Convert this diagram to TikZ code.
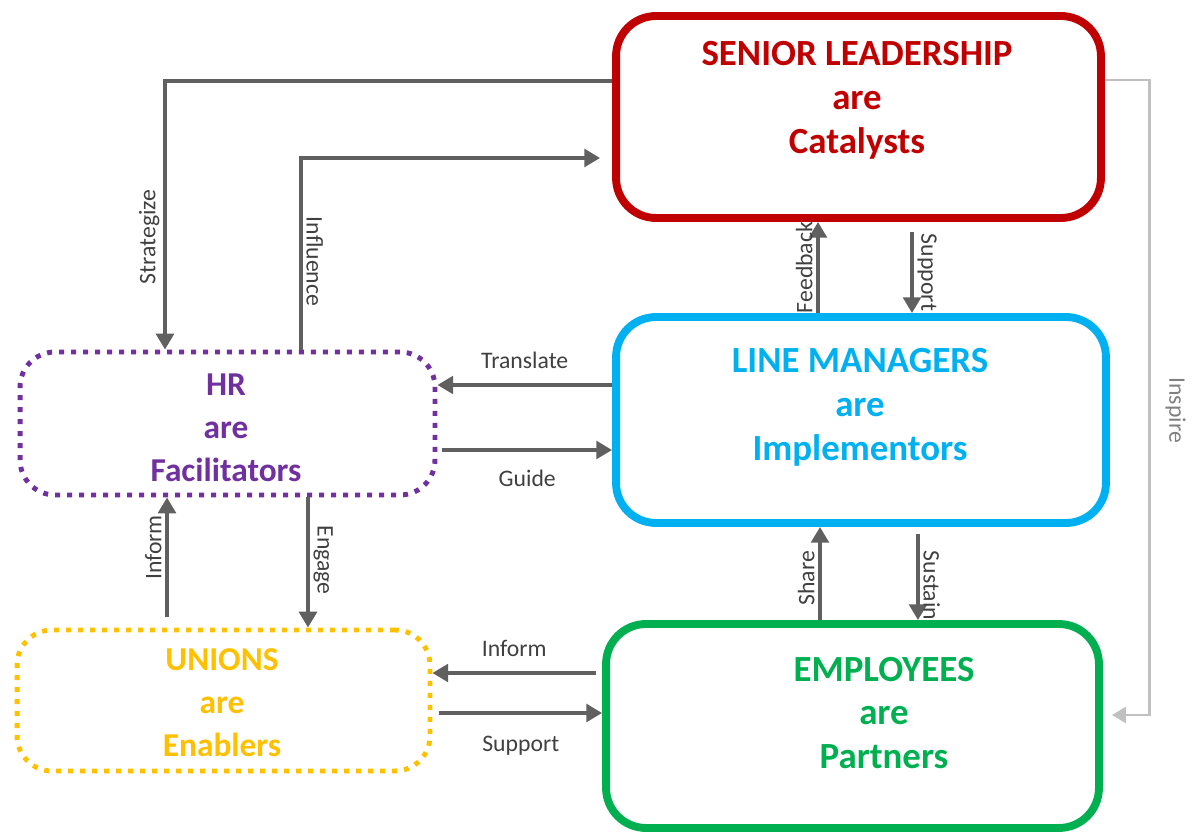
\documentclass[tikz,border=0pt]{standalone}
\usepackage{fontspec}
\setmainfont{Carlito}
\usepackage{xcolor}
\usetikzlibrary{positioning}
\usetikzlibrary{arrows.meta}
\definecolor{slred}{HTML}{C00000}
\definecolor{lmblue}{HTML}{00B0F0}
\definecolor{empgreen}{HTML}{00B050}
\definecolor{hrpurple}{HTML}{7030A0}
\definecolor{unyellow}{HTML}{FFC000}
\definecolor{arrgray}{HTML}{606060}
\definecolor{lightgray}{HTML}{C0C0C0}
\definecolor{lblgray}{HTML}{404040}

\begin{document}
\begin{tikzpicture}[x=0.02cm, y=-0.02cm,
  box/.style = {draw=#1, line width=4.5pt, rounded corners=0.8cm, inner sep=0pt},
  dotbox/.style = {draw=#1, line width=2.8pt, rounded corners=0.7cm, inner sep=0pt, dash pattern=on 0.1cm off 0.14cm},
  bigtext/.style = {text=#1, font=\fontsize{21}{25}\selectfont\bfseries, align=center},
  midtext/.style = {text=#1, font=\fontsize{19}{24.4}\selectfont\bfseries, align=center},
  arr/.style = {draw=arrgray, line width=2.3pt, -{Triangle[length=9pt, width=10pt]}},
  insp/.style = {draw=lightgray, line width=1.7pt, -{Triangle[length=8pt, width=9pt]}},
  lbl/.style = {text=lblgray, font=\fontsize{13.5}{15}\selectfont, inner sep=2pt}]
\useasboundingbox (0,0) rectangle (1198,834);

\node[box=slred, minimum width=9.7cm, minimum height=4.04cm] (sl) at (858.5,117) {};
\node[box=lmblue, minimum width=9.8cm, minimum height=4.12cm] (lm) at (861,420) {};
\node[box=empgreen, minimum width=9.86cm, minimum height=4.08cm] (emp) at (852.5,726) {};
\node[dotbox=hrpurple, minimum width=8.3cm, minimum height=2.86cm] (hr) at (227.5,423.5) {};
\node[dotbox=unyellow, minimum width=8.26cm, minimum height=2.82cm] (un) at (223.5,700.5) {};

\node[bigtext=slred] (slt) at (857,100) {SENIOR LEADERSHIP\\are\\Catalysts};
\node[bigtext=lmblue] (lmt) at (860,407) {LINE MANAGERS\\are\\Implementors};
\node[bigtext=empgreen] (empt) at (884,713) {EMPLOYEES\\are\\Partners};
\node[midtext=hrpurple] (hrt) at (226,428) {HR\\are\\Facilitators};
\node[midtext=unyellow] (unt) at (222,703) {UNIONS\\are\\Enablers};

\draw[arr] ([yshift=0.72cm]sl.west) -| node[lbl, pos=0.79, rotate=90, anchor=south] {Strategize} ([xshift=-1.25cm]hr.north);
\draw[arr] ([xshift=1.47cm]hr.north) |- node[lbl, pos=0.23, rotate=-90, anchor=south] {Influence} ([xshift=-0.24cm, yshift=-0.82cm]sl.west);
\draw[arr] ([xshift=-0.86cm]lm.north) coordinate (fb) -- node[lbl, pos=0.5, rotate=90, anchor=south] {Feedback} (fb |- sl.south);
\draw[arr] ([xshift=1.07cm, yshift=-0.2cm]sl.south) coordinate (sp) -- node[lbl, pos=0.5, rotate=-90, anchor=south] {Support} (sp |- lm.north);
\draw[insp] ([yshift=0.74cm]sl.east) -- ++(45,0) |- node[lbl, text=gray, pos=0.26, rotate=-90, anchor=south, inner sep=8pt] {Inspire} ([xshift=0.18cm, yshift=0.22cm]emp.east);
\draw[arr] ([yshift=0.7cm]lm.west) coordinate (tr) -- node[lbl, above=6pt] {Translate} (tr -| hr.east);
\draw[arr] ([xshift=0.1cm, yshift=-0.53cm]hr.east) coordinate (gd) -- node[lbl, below=8pt] {Guide} (gd -| lm.west);
\draw[arr] ([xshift=-1.13cm, yshift=0.22cm]un.north) coordinate (inf) -- node[lbl, pos=0.58, rotate=90, anchor=south] {Inform} (inf |- hr.south);
\draw[arr] ([xshift=1.61cm]hr.south) coordinate (eng) -- node[lbl, pos=0.48, rotate=-90, anchor=south] {Engage} (eng |- un.north);
\draw[arr] ([xshift=-0.65cm]emp.north) coordinate (sh) -- node[lbl, pos=0.45, rotate=90, anchor=south] {Share} (sh |- lm.south);
\draw[arr] ([xshift=1.14cm, yshift=-0.14cm]lm.south) coordinate (sus) -- node[lbl, pos=0.6, rotate=-90, anchor=south] {Sustain} (sus |- emp.north);
\draw[arr] ([xshift=-0.12cm, yshift=1.06cm]emp.west) coordinate (inf2) -- node[lbl, above=6pt] {Inform} (inf2 -| un.east);
\draw[arr] ([xshift=0.14cm, yshift=-0.25cm]un.east) coordinate (sup) -- node[lbl, below=10pt] {Support} (sup -| emp.west);
\end{tikzpicture}
\end{document}
